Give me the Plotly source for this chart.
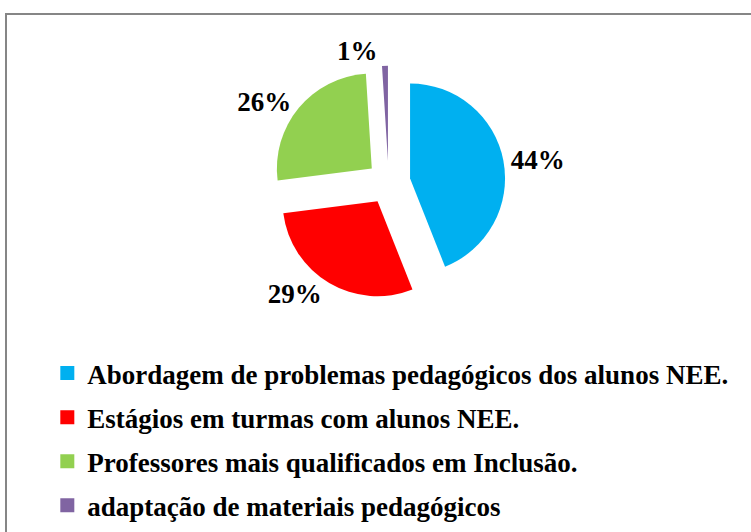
import plotly.graph_objects as go

labels = [
    "Abordagem de problemas pedagógicos dos alunos NEE.",
    "Estágios em turmas com alunos NEE.",
    "Professores mais qualificados em Inclusão.",
    "adaptação de materiais pedagógicos",
]
values = [44, 29, 26, 1]
colors = ["#00B0F0", "#FF0000", "#92D050", "#8064A2"]
pulls = [0.23, 0.23, 0.23, 0.23]

FONT = "Liberation Serif"

fig = go.Figure()
fig.add_trace(go.Pie(
    labels=labels, values=values, sort=False, direction="clockwise", rotation=0,
    pull=pulls, marker=dict(colors=colors, line=dict(width=0)),
    texttemplate="<b>%{value}%</b>", textposition="outside",
    textfont=dict(family=FONT, size=27, color="black"),
    showlegend=False, hoverinfo="label+percent",
    domain=dict(x=[0.362, 0.673], y=[0.437, 0.877]),
))

for i, (lab, col) in enumerate(zip(labels, colors)):
    fig.add_trace(go.Scatter(
        x=[None], y=[None], mode="markers", name="<b>" + lab + "</b>",
        legendgroup="g%d" % i,
        marker=dict(symbol="square", size=14, color=col, line=dict(width=0)),
    ))

fig.update_layout(
    width=751, height=532,
    margin=dict(l=0, r=0, t=0, b=0, autoexpand=False),
    paper_bgcolor="white", plot_bgcolor="white",
    xaxis=dict(visible=False), yaxis=dict(visible=False),
    legend=dict(
        x=0.063, xanchor="left", y=0.344, yanchor="top",
        font=dict(family=FONT, size=27, color="black"),
        tracegroupgap=6, bgcolor="rgba(0,0,0,0)",
    ),
    shapes=[dict(type="rect", xref="paper", yref="paper",
                 x0=6 / 751, x1=1.1, y0=-0.1, y1=1 - 14 / 532,
                 line=dict(color="#868686", width=2), layer="below")],
)

fig.write_html("out.html", config={"displayModeBar": False},
               post_script="document.body.style.margin='0';")
